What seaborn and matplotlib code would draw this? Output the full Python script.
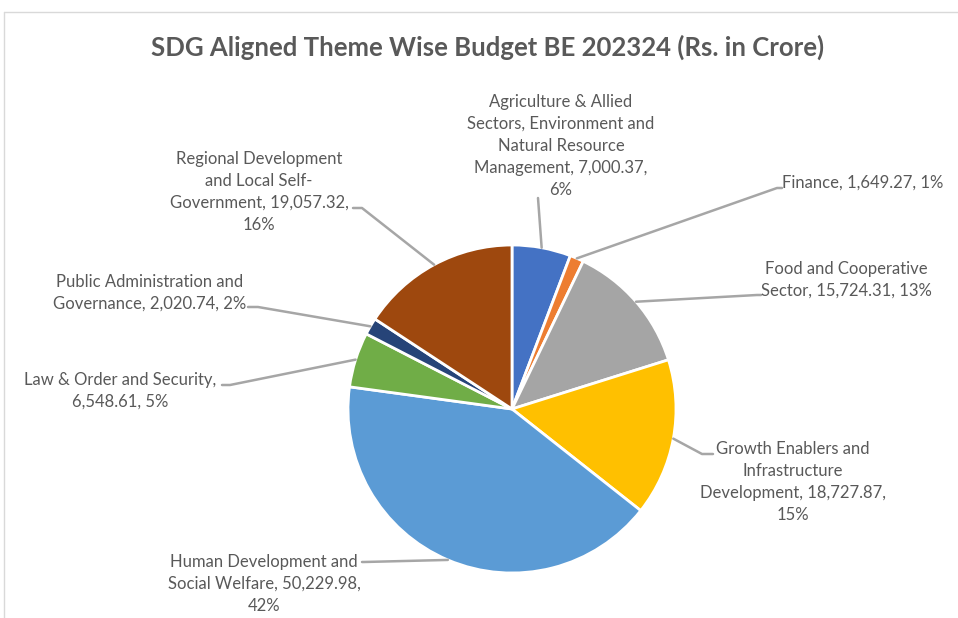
import seaborn as sns
import matplotlib.pyplot as plt
from matplotlib.lines import Line2D
import numpy as np

# data (Rs. in Crore)
budget = [7000.37, 1649.27, 15724.31, 18727.87, 50229.98, 6548.61, 2020.74, 19057.32]
label_text = [
    "Agriculture & Allied\nSectors, Environment and\nNatural Resource\nManagement, 7,000.37,\n6%",
    "Finance, 1,649.27, 1%",
    "Food and Cooperative\nSector, 15,724.31, 13%",
    "Growth Enablers and\nInfrastructure\nDevelopment, 18,727.87,\n15%",
    "Human Development and\nSocial Welfare, 50,229.98,\n42%",
    "Law & Order and Security,\n6,548.61, 5%",
    "Public Administration and\nGovernance, 2,020.74, 2%",
    "Regional Development\nand Local Self-\nGovernment, 19,057.32,\n16%",
]
slice_colors = ["#4472C4", "#ED7D31", "#A5A5A5", "#FFC000",
                "#5B9BD5", "#70AD47", "#264478", "#9E480E"]

sns.set_theme(style="white")
plt.rcParams['font.family'] = ['Lato', 'DejaVu Sans']
txt_color = "#595959"
line_color = "#A6A6A6"

W, H = 958, 618
fig = plt.figure(figsize=(W / 100, H / 100), dpi=100)

# pie axes placed in pixels: centre (512, 409), radius 164
cx, cy, r = 512, 409, 164
ax = fig.add_axes([(cx - r) / W, (H - cy - r) / H, 2 * r / W, 2 * r / H])
wedges, _ = ax.pie(
    budget,
    colors=sns.color_palette(slice_colors),
    startangle=90,
    counterclock=False,
    wedgeprops=dict(edgecolor="white", linewidth=2),
)
ax.set_xlim(-1, 1)
ax.set_ylim(-1, 1)
ax.set_aspect("equal")

def px(x, y):
    # top-left pixel -> figure fraction
    return x / W, (H - y) / H

# label layout: text centre, alignment, elbow point, line end (pixels from top-left)
layout = [
    ((561, 146), "center", (538, 198), (538, 198)),
    ((782, 183), "left", (777, 188), (782, 188)),
    ((846, 280), "center", (757, 295), (761, 295)),
    ((793, 482), "center", (702, 454), (713, 454)),
    ((264, 584), "center", (364, 562), (362, 562)),
    ((120, 391), "center", (230, 385), (222, 385)),
    ((150, 293), "center", (258, 307), (248, 307)),
    ((259, 192), "center", (362, 208), (353, 208)),
]

for w, txt, (pos, ha, elbow, end) in zip(wedges, label_text, layout):
    mid = np.deg2rad((w.theta1 + w.theta2) / 2)
    edge = (np.cos(mid) * w.r, np.sin(mid) * w.r)
    ex, ey = ax.transData.transform(edge)
    xs = [ex / W, px(*elbow)[0], px(*end)[0]]
    ys = [ey / H, px(*elbow)[1], px(*end)[1]]
    fig.add_artist(Line2D(xs, ys, transform=fig.transFigure,
                          color=line_color, lw=1.8))
    fig.text(*px(*pos), txt, ha=ha, va="center", multialignment="center",
             fontsize=12, color=txt_color, linespacing=1.46)

fig.text(*px(488, 47), "SDG Aligned Theme Wise Budget BE 202324 (Rs. in Crore)",
         ha="center", va="center", fontsize=18.5, fontweight="bold", color=txt_color)

# chart area border
fig.add_artist(Line2D([4 / W, 1], [px(0, 12)[1]] * 2, transform=fig.transFigure,
                      color="#D9D9D9", lw=1))
fig.add_artist(Line2D([4 / W] * 2, [px(0, 12)[1], 0], transform=fig.transFigure,
                      color="#D9D9D9", lw=1))

plt.savefig("out.png", dpi=100)
plt.close()
